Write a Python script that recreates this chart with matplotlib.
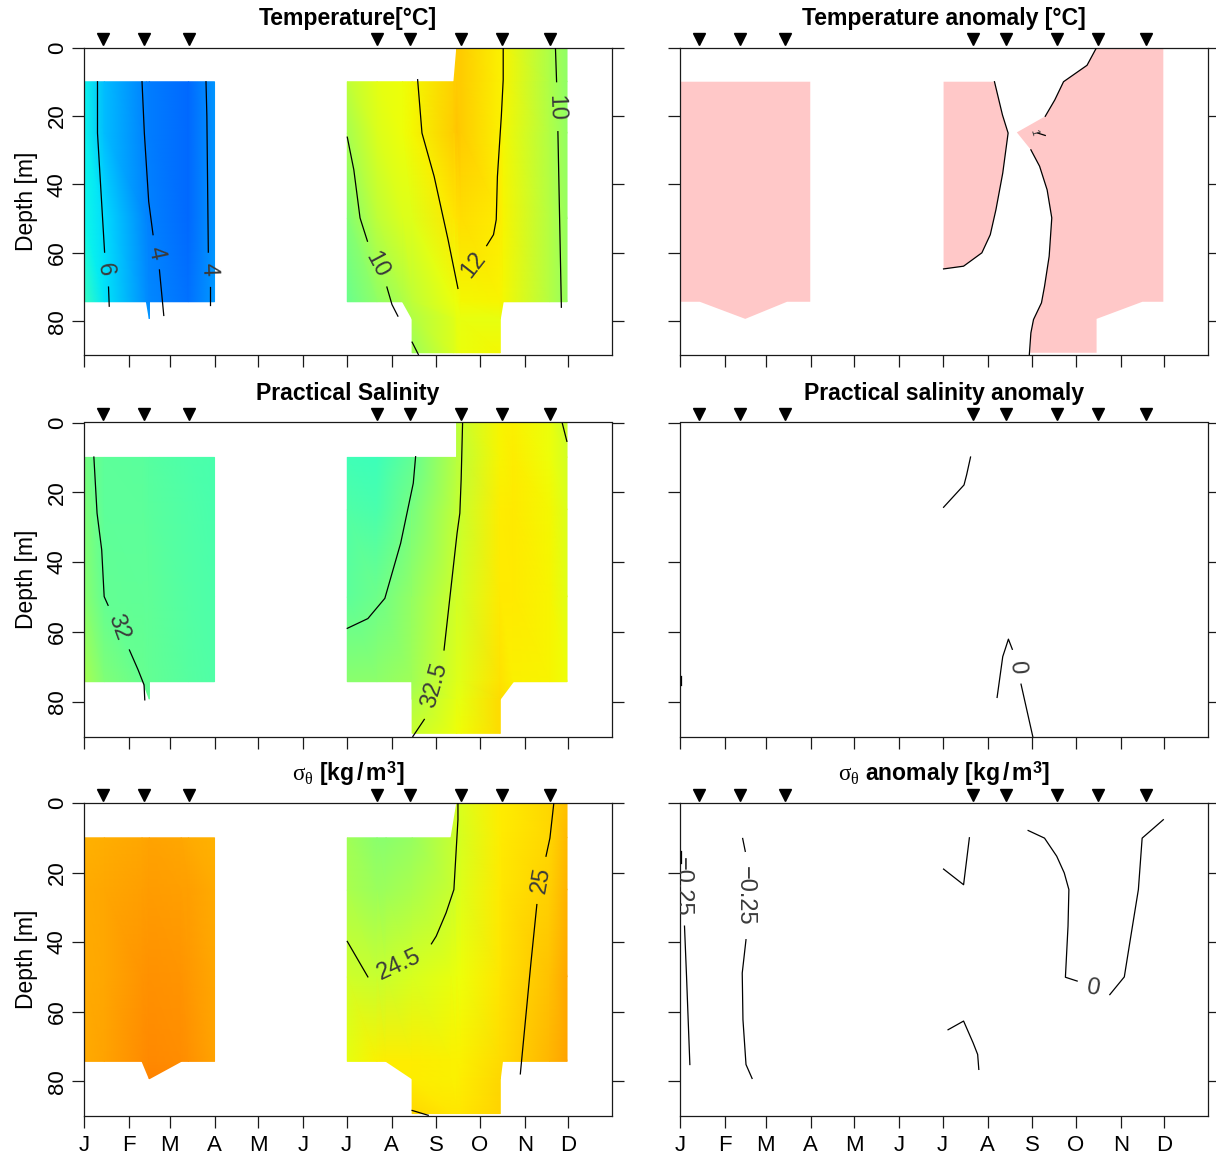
import numpy as np
import matplotlib
matplotlib.use('Agg')
import matplotlib.pyplot as plt
import matplotlib.tri as mtri

plt.rcParams['font.family'] = ['Liberation Sans', 'DejaVu Sans']
plt.rcParams['mathtext.fontset'] = 'custom'
plt.rcParams['mathtext.rm'] = 'Liberation Sans:bold'
plt.rcParams['mathtext.it'] = 'Liberation Serif'
plt.rcParams['mathtext.bf'] = 'Liberation Sans:bold'

n = np.nan

month_days = [0, 31, 59, 90, 120, 151, 181, 212, 243, 273, 304, 334]
month_labels = ['J', 'F', 'M', 'A', 'M', 'J', 'J', 'A', 'S', 'O', 'N', 'D']
depth_ticks = [0, 20, 40, 60, 80]
station_days = [13.3, 41.6, 72.4, 202, 225, 260, 288, 321]

# temperature section
temp_days = [0, 14, 43, 45, 45.1, 72, 90, 181.5, 202, 219.6, 226.2, 255, 257, 260, 287, 289, 321, 333]
temp_depths = [0, 10, 25, 50, 74.3, 79.3, 89.2]
temp_grid = np.array([
    [n, n, n, n, n, n, n, n, n, n, n, n, 12.9, 12.9, 12.05, 12.0, 10.2, 9.5],
    [6.3, 5.2, 4.0, 3.95, 3.95, 3.6, 4.4, 10.6, 11.5, 11.8, 11.9, 12.8, 12.9, 12.9, 12.05, 12.0, 10.2, 9.5],
    [6.3, 5.2, 4.0, 3.95, 3.95, 3.6, 4.4, 10.05, 11.3, 11.8, 11.9, 12.9, 13.0, 12.9, 12.05, 11.95, 10.3, 9.6],
    [6.4, 5.8, 4.1, 4.0, 4.0, 3.6, 4.4, 9.2, 10.6, 11.3, 11.4, 12.3, 12.4, 12.5, 12.2, 12.0, 10.4, 9.7],
    [7.4, 6.0, 4.3, 4.2, 4.2, 3.7, 4.5, 8.6, 9.5, 10.2, 10.6, 11.7, 11.8, 11.9, 12.0, 11.9, 10.4, 9.7],
    [n, n, n, 4.8, n, n, n, n, n, n, 10.3, 11.4, 11.6, 11.6, 11.6, n, n, n],
    [n, n, n, n, n, n, n, n, n, n, 9.8, 11.3, 11.5, 11.7, 11.9, n, n, n],
])
temp_lines = [
    ([9.3, 9.3, 14.2], [10, 25, 59.8]),
    ([16.9, 17.4], [70, 75.6]),
    ([40, 41.6, 44.6, 47.6], [10, 25, 45, 54.7]),
    ([52, 55], [65, 78.3]),
    ([84.1, 84.7, 85.7], [10, 20, 59.8]),
    ([86.8, 86.8], [70, 75.1]),
    ([181.5, 186, 190.3, 195.4], [26.2, 35.7, 49.8, 56.6]),
    ([208.8, 212.3, 216.4], [70, 75.1, 78.5]),
    ([226.2, 230.5], [86.1, 89.7]),
    ([230, 233, 241.4, 251, 257.8], [9.4, 25, 37.7, 56.2, 70.4]),
    ([289, 289, 287.7, 285, 284.2, 282.3, 277.6], [0, 9.4, 20.1, 37.7, 50.3, 54.7, 57.9]),
    ([325, 325.8], [0, 10]),
    ([326.7, 329.1], [24.6, 75.9]),
]
temp_labels = [
    ('6', 14.5, 64.9, -82),
    ('4', 49.5, 60.2, -78),
    ('4', 85.9, 64.9, -88),
    ('10', 202, 63.6, -62),
    ('12', 268.6, 63.6, 52),
    ('10', 325.3, 17.7, -88),
]

# salinity section
sal_days = [0, 14, 40.5, 45, 45.1, 72, 90, 181.5, 202, 226.1, 226.2, 256.9, 257, 260, 287, 296, 321, 333]
sal_depths = [0, 10, 25, 50, 74.3, 79.3, 89.1]
sal_grid = np.array([
    [n, n, n, n, n, n, n, n, n, n, n, n, 32.45, 32.5, 32.75, 32.77, 32.68, 32.5],
    [32.1, 31.97, 31.95, 31.94, 31.94, 31.89, 31.88, 31.82, 31.8, 32.0, 32.0, 32.42, 32.42, 32.47, 32.76, 32.78, 32.7, 32.58],
    [32.15, 31.97, 31.97, 31.96, 31.96, 31.9, 31.88, 31.9, 31.88, 32.1, 32.1, 32.48, 32.48, 32.52, 32.78, 32.8, 32.73, 32.6],
    [32.2, 32.0, 31.99, 31.98, 31.98, 31.92, 31.89, 31.97, 32.05, 32.25, 32.25, 32.55, 32.55, 32.58, 32.8, 32.8, 32.75, 32.64],
    [32.35, 32.15, 32.02, 32.0, 32.0, 31.93, 31.9, 32.2, 32.22, 32.32, 32.32, 32.62, 32.62, 32.64, 32.84, 32.77, 32.75, 32.7],
    [n, n, n, 31.99, n, n, n, n, n, n, 32.4, 32.65, 32.65, 32.67, 32.86, n, n, n],
    [n, n, n, n, n, n, n, n, n, n, 32.5, 32.7, 32.7, 32.72, 32.86, n, n, n],
])
sal_lines = [
    ([6.8, 9, 12.2, 13.9, 16.6], [9.9, 26, 36.5, 49.9, 52.4]),
    ([31.3, 37.3, 41.4, 41.9], [65.2, 70.9, 75.2, 79.5]),
    ([228.6, 227, 218.3, 207.4, 195.7, 181.5], [9.8, 17.4, 34.6, 50.4, 56.2, 59]),
    ([261, 260, 259.1, 257.2, 248.2], [0, 16.4, 26, 31.7, 65.2]),
    ([234.6, 226.7], [85.1, 90]),
    ([329.6, 332.9], [0, 5.4]),
]
sal_labels = [
    ('32', 23.7, 58.7, -70),
    ('32.5', 241.4, 75.2, 74),
]

# potential density section
sig_days = [0, 14, 40, 45, 67, 72, 90, 181.5, 202, 208.2, 226.2, 253, 257, 260, 287, 288.5, 321, 333]
sig_depths = [0, 10, 25, 50, 74.3, 79.3, 89.3]
sig_grid = np.array([
    [n, n, n, n, n, n, n, n, n, n, n, n, 24.6, 24.65, 24.88, 24.88, 25.0, 25.12],
    [25.22, 25.24, 25.28, 25.29, 25.27, 25.26, 25.22, 24.25, 24.1, 24.12, 24.2, 24.5, 24.58, 24.62, 24.88, 24.9, 25.0, 25.18],
    [25.25, 25.27, 25.33, 25.35, 25.33, 25.32, 25.25, 24.32, 24.22, 24.24, 24.32, 24.52, 24.6, 24.66, 24.9, 24.92, 25.05, 25.22],
    [25.25, 25.28, 25.38, 25.4, 25.38, 25.36, 25.28, 24.55, 24.52, 24.53, 24.62, 24.72, 24.74, 24.76, 24.92, 24.94, 25.12, 25.28],
    [25.25, 25.3, 25.42, 25.45, 25.42, 25.4, 25.3, 24.72, 24.85, 24.88, 24.88, 24.85, 24.85, 24.85, 24.98, 24.99, 25.2, 25.3],
    [n, n, n, 25.48, n, n, n, n, n, n, 24.88, 24.86, 24.86, 24.87, 25.0, n, n, n],
    [n, n, n, n, n, n, n, n, n, n, 25.0, 24.92, 24.92, 24.92, 25.02, n, n, n],
])
sig_lines = [
    ([257.8, 257.8, 255, 249.6, 242.8, 239.5], [0, 4.8, 24.9, 31.6, 38.3, 40.5]),
    ([195.7, 181.5], [50, 39.8]),
    ([323.9, 321.2, 318.5], [0, 10.1, 15.3]),
    ([312.2, 308.1, 300.8], [29.2, 46, 77.9]),
    ([226.2, 237.3], [88.4, 89.8]),
]
sig_labels = [
    ('24.5', 217, 46.5, 25),
    ('25', 315.5, 22.2, 80),
]

# anomaly panels
temp_anom_a_days = [0, 89.8, 89.8, 73.8, 45, 13.6, 0]
temp_anom_a_depths = [10, 10, 74.3, 74.3, 79.3, 74.3, 74.3]
temp_anom_b_days = [181.7, 216.8, 222.3, 226.2, 222.5, 217.8, 213.9, 208.1, 195.5, 181.7]
temp_anom_b_depths = [10, 10, 19.7, 25, 36.7, 47.4, 54.7, 60, 63.9, 64.7]
temp_anom_c_days = [287.2, 333.2, 333.2, 318.8, 287.2, 287.2, 241.4, 241.9, 243.7, 249.2, 251.3, 254.5, 256.3,
                    253.1, 247.9, 241.9, 232.2, 251.8, 258.4, 264.4, 280.6]
temp_anom_c_depths = [0, 0, 74.3, 74.3, 79.3, 89.2, 89.2, 83.4, 79.5, 74.6, 69.8, 61, 49.8,
                      41.6, 34.7, 29.9, 24.8, 20.1, 15.3, 10, 5.2]
temp_anom_lines = [
    ([216.8, 222.3, 226.2, 222.5, 217.8, 213.9, 208.1, 195.5, 181.7], [10, 19.7, 25, 36.7, 47.4, 54.7, 60, 63.9, 64.7]),
    ([241.9, 247.9, 253.1, 256.3, 254.5, 251.3, 249.2, 243.7, 241.9, 240.8],
     [29.9, 34.7, 41.6, 49.8, 61, 69.8, 74.6, 79.5, 83.4, 89.9]),
    ([251.8, 258.4, 264.4, 280.6, 287.2], [20.1, 15.3, 10, 5.2, 0]),
    ([246.6, 251.8], [25, 25.7]),
]
temp_anom_labels = [('1', 244.2, 24.7, -75, 8)]

sal_anom_lines = [
    ([200.3, 197.6, 195.8, 181.7], [9.9, 15, 17.9, 24.3]),
    ([218.6, 222.5, 224.4, 226.4, 229.1], [78.8, 67.1, 64.7, 62.1, 65]),
    ([235.1, 243.2], [75, 90]),
    ([1, 1], [72.7, 75.2]),
]
sal_anom_labels = [('0', 231.9, 70, -85, 17)]

sig_anom_lines = [
    ([0.8, 0.8], [13.9, 17.2]),
    ([3.1, 4.5, 5.8, 6.8], [35.4, 49.8, 64.2, 75.2]),
    ([43.2, 45], [10.2, 13.9]),
    ([45.5, 42.9, 43.4, 45.5, 49.7], [39.3, 48.9, 62.3, 75.2, 79.2]),
    ([199.5, 195.5, 181.7], [10, 23.5, 19]),
    ([184.8, 195.5, 202.1, 205.2, 206], [65.2, 62.7, 69, 72.3, 76.6]),
    ([240, 251.3, 259.7, 264.9, 268.1, 267.5, 265.7, 273.8], [7.9, 10.1, 15.3, 20.1, 24.9, 35.4, 50.1, 51.2]),
    ([296.3, 306.3, 310.8, 316, 318.6, 333.2], [55.1, 50, 38.3, 24.9, 10.1, 4.8]),
]
sig_anom_labels = [
    ('\u22120.25', 1.3, 24.2, -90, 17),
    ('\u22120.25', 45, 26.8, -90, 17),
    ('0', 284.6, 53.4, -10, 17),
]

W, H = 1216, 1155
rows = [(47.5, 355.5), (422.5, 736.5), (803, 1116)]
cols = [(84, 612), (680, 1208)]
ink = '#1a1a1a'
gap_days = 60


def make_axes(col, row, show_months):
    x0, x1 = cols[col]
    y0, y1 = rows[row]
    ax = fig.add_axes([x0 / W, 1 - y1 / H, (x1 - x0) / W, (y1 - y0) / H])
    ax.set_xlim(0, 364)
    ax.set_ylim(90, 0)
    ax.set_xticks(month_days)
    ax.set_yticks(depth_ticks)
    ax.tick_params(axis='both', length=8.6, width=0.9, color=ink, labelsize=16)
    ax.tick_params(axis='y', right=True, labelleft=(col == 0), pad=3)
    ax.tick_params(axis='x', pad=5)
    if show_months:
        ax.set_xticklabels(month_labels)
    else:
        ax.tick_params(axis='x', labelbottom=False)
    for lab in ax.get_yticklabels():
        lab.set_rotation(90)
        lab.set_va('center')
    for sp in ax.spines.values():
        sp.set_linewidth(0.9)
        sp.set_color(ink)
    ax.plot(station_days, [-2.4] * len(station_days), 'v', color='black', ms=8.5, clip_on=False, zorder=5)
    if col == 0:
        ax.set_ylabel('Depth [m]', fontsize=16.5)
        ax.yaxis.set_label_coords(-46 / 528, 0.5)
    return ax


def draw_section(ax, days, depths, grid, vmin, vmax):
    xx, yy = np.meshgrid(days, depths)
    ok = ~np.isnan(grid)
    nr, nc = grid.shape
    tris = []
    for i in range(nr - 1):
        for j in range(nc - 1):
            # no cruises between April and July, leave that gap empty
            if days[j + 1] - days[j] > gap_days:
                continue
            corners = [(i, j), (i, j + 1), (i + 1, j + 1), (i + 1, j)]
            good = [i2 * nc + j2 for i2, j2 in corners if ok[i2, j2]]
            if len(good) == 4:
                tris.append([good[0], good[1], good[2]])
                tris.append([good[0], good[2], good[3]])
            elif len(good) == 3:
                tris.append(good)
    tri = mtri.Triangulation(xx.ravel(), yy.ravel(), tris)
    ax.tripcolor(tri, np.nan_to_num(grid).ravel(), shading='gouraud', cmap='jet', vmin=vmin, vmax=vmax, zorder=1)


def draw_lines(ax, lines):
    for xs, ys in lines:
        ax.plot(xs, ys, color='black', lw=0.9, zorder=3)


def draw_labels(ax, labels):
    for item in labels:
        size = item[4] if len(item) > 4 else 17
        ax.text(item[1], item[2], item[0], rotation=item[3], rotation_mode='anchor', ha='center', va='center',
                fontsize=size, color='#3a3a3a', clip_on=True, zorder=4)


fig = plt.figure(figsize=(12.16, 11.55), dpi=100)
title_kw = dict(fontsize=16.6, fontweight='bold', pad=16)

ax = make_axes(0, 0, False)
draw_section(ax, temp_days, temp_depths, temp_grid, -1, 19)
draw_lines(ax, temp_lines)
draw_labels(ax, temp_labels)
ax.set_title('Temperature[\u00b0C]', **title_kw)

ax = make_axes(1, 0, False)
ax.fill(temp_anom_a_days, temp_anom_a_depths, color='#ffc8c8', lw=0, zorder=1)
ax.fill(temp_anom_b_days, temp_anom_b_depths, color='#ffc8c8', lw=0, zorder=1)
ax.fill(temp_anom_c_days, temp_anom_c_depths, color='#ffc8c8', lw=0, zorder=1)
draw_lines(ax, temp_anom_lines)
draw_labels(ax, temp_anom_labels)
ax.set_title('Temperature anomaly [\u00b0C]', **title_kw)

ax = make_axes(0, 1, False)
draw_section(ax, sal_days, sal_depths, sal_grid, 30.04, 34.21)
draw_lines(ax, sal_lines)
draw_labels(ax, sal_labels)
ax.set_title('Practical Salinity', **title_kw)

ax = make_axes(1, 1, False)
draw_lines(ax, sal_anom_lines)
draw_labels(ax, sal_anom_labels)
ax.set_title('Practical salinity anomaly', **title_kw)

ax = make_axes(0, 2, True)
draw_section(ax, sig_days, sig_depths, sig_grid, 21.3, 26.73)
draw_lines(ax, sig_lines)
draw_labels(ax, sig_labels)
ax.set_title(r'$\sigma_\theta$ [kg$\,/\,$m$^{3}$]', **title_kw)

ax = make_axes(1, 2, True)
draw_lines(ax, sig_anom_lines)
draw_labels(ax, sig_anom_labels)
ax.set_title(r'$\sigma_\theta$ anomaly [kg$\,/\,$m$^{3}$]', **title_kw)

fig.savefig('out.png', dpi=100)
